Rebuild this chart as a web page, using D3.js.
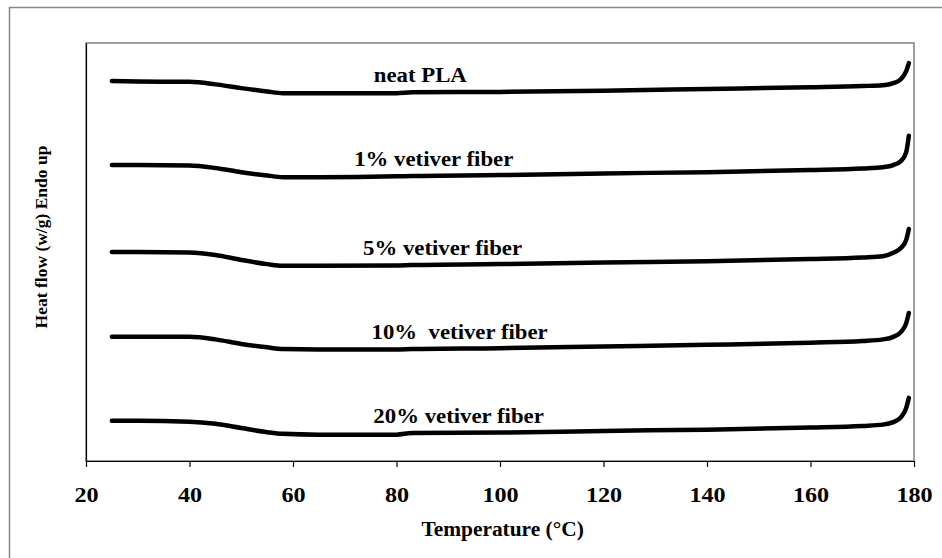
<!DOCTYPE html>
<html>
<head>
<meta charset="utf-8">
<script src="https://cdn.jsdelivr.net/npm/d3@7"></script>
<style>
  body { margin: 0; background: #fff; }
  text { font-family: "Liberation Serif", "Times New Roman", serif; font-weight: bold; fill: #000; }
</style>
</head>
<body>
<div class="chart"></div>
<script>
// temperatures (°C) shared by every DSC trace
const temps = [25, 30, 40, 45, 50, 55, 58, 65, 80, 83, 100, 120, 140, 160, 170, 174, 176, 177.5, 178.5, 179];

// heat flow readings (arbitrary offset, W/g), one array per sample
const neatPLA  = [9.09, 9.08, 9.07, 9.01, 8.92, 8.84, 8.80, 8.80, 8.80, 8.82, 8.83, 8.86, 8.90, 8.94, 8.97, 8.99, 9.04, 9.14, 9.33, 9.52];
const vet1     = [7.08, 7.08, 7.07, 7.01, 6.91, 6.83, 6.79, 6.79, 6.81, 6.82, 6.84, 6.88, 6.91, 6.96, 7.00, 7.03, 7.08, 7.18, 7.39, 7.78];
const vet5     = [5.00, 5.00, 4.99, 4.93, 4.81, 4.71, 4.67, 4.67, 4.68, 4.69, 4.71, 4.75, 4.78, 4.83, 4.87, 4.90, 4.98, 5.10, 5.29, 5.55];
const vet10    = [2.97, 2.97, 2.97, 2.91, 2.80, 2.72, 2.68, 2.67, 2.67, 2.68, 2.70, 2.74, 2.78, 2.83, 2.87, 2.91, 2.97, 3.09, 3.30, 3.54];
const vet20    = [0.96, 0.96, 0.94, 0.89, 0.79, 0.69, 0.65, 0.63, 0.63, 0.67, 0.68, 0.72, 0.75, 0.80, 0.84, 0.87, 0.93, 1.05, 1.27, 1.51];

const seriesNames = ['neat PLA', '1% vetiver fiber', '5% vetiver fiber', '10%\u00a0 vetiver fiber', '20% vetiver fiber'];
const labelTemps = [84.6, 87.2, 88.9, 92.2, 92.0];   // where each label sits along the trace
const xTicks = [20, 40, 60, 80, 100, 120, 140, 160, 180];

const series = [neatPLA, vet1, vet5, vet10, vet20].map((vals, i) => ({
	name: seriesNames[i],
	labelT: labelTemps[i],
	points: vals.map((v, j) => ({t: temps[j], v: v}))
}));

const outerW = 942,
	outerH = 558;

const margin = {left: 86, right: 28, top: 43, bottom: 97};
const w = outerW - margin.left - margin.right,
	h = outerH - margin.top - margin.bottom;

const x = d3.scaleLinear().domain([20, 180]).range([0, w]);
const y = d3.scaleLinear().domain([0, 10]).range([h, 0]);

const svg = d3.select('.chart').append('svg')
	.attr('width', outerW)
	.attr('height', outerH);

// outer chart frame (cut off on the right and bottom)
svg.append('rect')
	.attr('x', 9.5).attr('y', 7.5)
	.attr('width', 1000).attr('height', 1000)
	.attr('fill', 'none')
	.attr('stroke', '#868686')
	.attr('stroke-width', 1.5);

const g = svg.append('g')
	.attr('transform', `translate(${margin.left}, ${margin.top})`);

// plot area border
g.append('rect')
	.attr('x', 0).attr('y', 0)
	.attr('width', w).attr('height', h)
	.attr('fill', 'none')
	.attr('stroke', '#808080')
	.attr('stroke-width', 1.5);

// axes
const xAxis = g.append('g')
	.attr('class', 'x axis')
	.attr('transform', `translate(0, ${h})`)
	.call(d3.axisBottom(x)
		.tickValues(xTicks)
		.tickFormat(d3.format('d'))
		.tickSize(6)
		.tickSizeOuter(0)
	);

xAxis.select('.domain').attr('stroke', '#000').attr('stroke-width', 1.2);
xAxis.selectAll('.tick line').attr('stroke', '#000').attr('stroke-width', 1.2);
xAxis.selectAll('.tick text')
	.attr('y', 0)
	.attr('dy', null)
	.attr('transform', 'translate(0, 41) scale(1.15, 1)')
	.style('font-size', '21px');

const yAxis = g.append('g')
	.attr('class', 'y axis')
	.call(d3.axisLeft(y).ticks(0).tickSizeOuter(0));

yAxis.select('.domain').attr('stroke', '#000').attr('stroke-width', 1.2);

// axis titles
svg.append('text')
	.attr('transform', `translate(${margin.left + x(100.5)}, 536) scale(1.07, 1)`)
	.attr('text-anchor', 'middle')
	.style('font-size', '20px')
	.text('Temperature (°C)');

svg.append('text')
	.attr('transform', 'translate(47, 237) rotate(-90)')
	.attr('text-anchor', 'middle')
	.style('font-size', '17.5px')
	.text('Heat flow (w/g) Endo up');

// traces
const line = d3.line()
	.x(d => x(d.t))
	.y(d => y(d.v))
	.curve(d3.curveMonotoneX);

g.selectAll('.trace')
	.data(series)
	.enter().append('path')
	.attr('class', 'trace')
	.attr('d', d => line(d.points))
	.attr('fill', 'none')
	.attr('stroke', '#000')
	.attr('stroke-width', 4.5)
	.attr('stroke-linecap', 'round')
	.attr('stroke-linejoin', 'round');

// labels just above each trace
const valueAt = (pts, t) => {
	const i = d3.bisector(d => d.t).left(pts, t);
	const a = pts[Math.max(i - 1, 0)], b = pts[Math.min(i, pts.length - 1)];
	return a.t === b.t ? a.v : a.v + (b.v - a.v) * (t - a.t) / (b.t - a.t);
};

g.selectAll('.trace-label')
	.data(series)
	.enter().append('text')
	.attr('class', 'trace-label')
	.attr('text-anchor', 'middle')
	.attr('transform', d => `translate(${x(d.labelT)}, ${y(valueAt(d.points, d.labelT)) - 10}) scale(1.14, 1)`)
	.style('font-size', '20px')
	.text(d => d.name);
</script>
</body>
</html>
